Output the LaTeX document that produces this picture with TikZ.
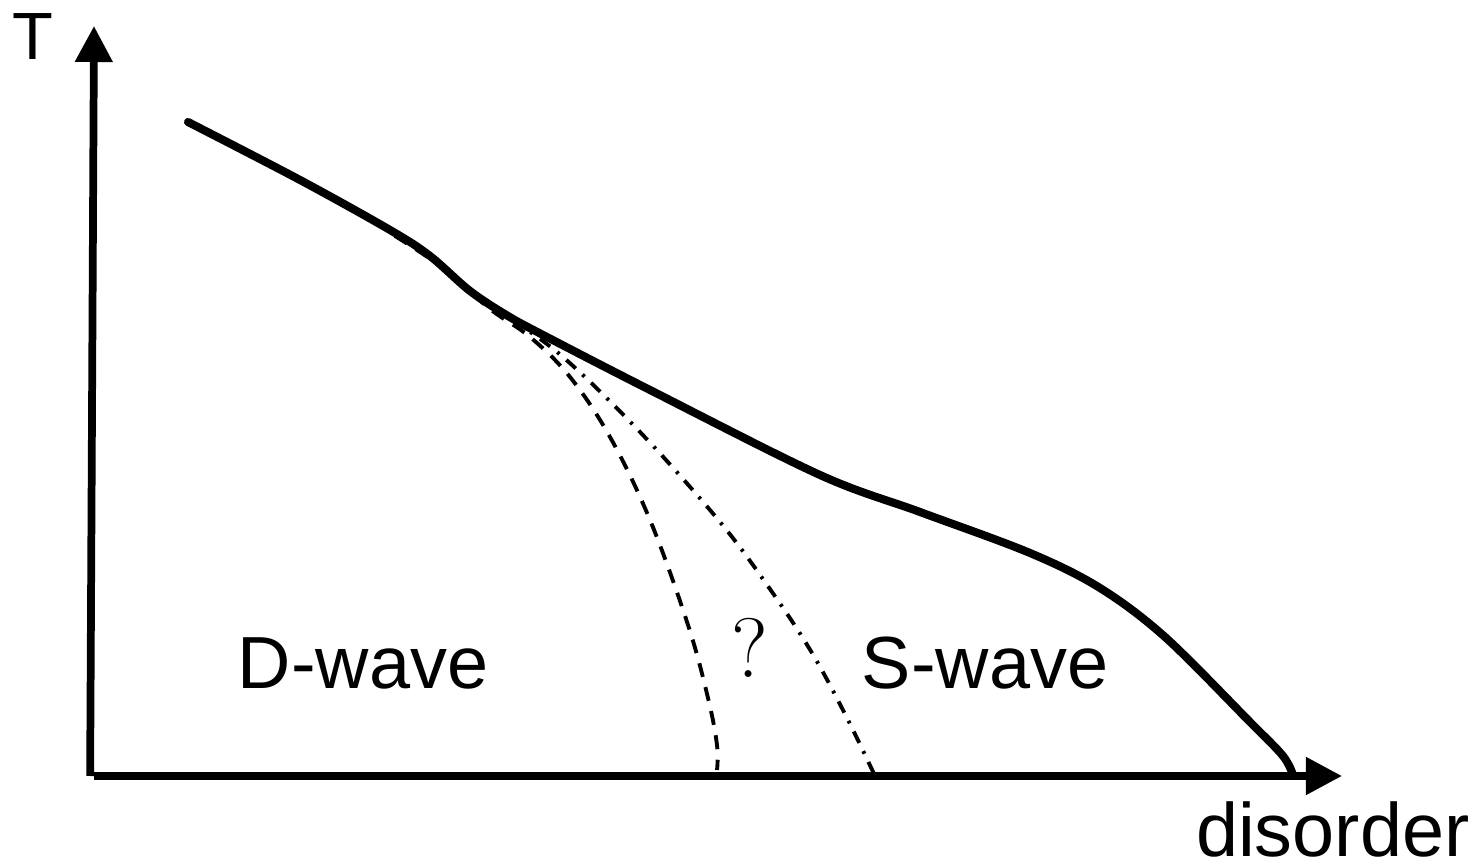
\documentclass[tikz,border=0pt]{standalone}
\usepackage{fontspec}
\setmainfont{Liberation Sans}
\newfontfamily\qfont{Latin Modern Roman}
\usetikzlibrary{arrows.meta}
\tikzset{
  axisline/.style={line width=2.2pt, -{Triangle[length=0.36cm, width=0.36cm]}},
  tccurve/.style={line width=2.3pt, line cap=round, line join=round},
  dwavebound/.style={line width=1.1pt, dash pattern=on 4pt off 3pt},
  swavebound/.style={line width=1.1pt, dash pattern=on 3.6pt off 2.6pt on 0.8pt off 2.6pt},
  phaselabel/.style={font=\fontsize{21}{24}\selectfont, inner sep=0pt},
  axislabel/.style={font=\fontsize{19}{22}\selectfont, inner sep=0pt},
}

\begin{document}
\begin{tikzpicture}[x=0.01cm, y=-0.01cm]
  \useasboundingbox (0,0) rectangle (1482,865);

  % === Axes ===
  \coordinate (origin) at (94,776);
  \coordinate (ytip) at (94,26);
  \coordinate (xtip) at (1342,776);
  \draw[axisline] ([xshift=-1.1pt]origin) -- (ytip);
  \draw[axisline] (origin) -- (xtip);
  \node[axislabel] (tlabel) at (33,37) {T};
  \node[axislabel, font=\fontsize{21.5}{24}\selectfont, anchor=base east] (dislabel) at (1470,857) {disorder};

  % === Transition line ===
  \draw[tccurve] plot[smooth, tension=0.55] coordinates {
    (188,122) (300,180) (390,230) (430,256) (470,291) (508,316)
    (545,336) (650,390) (820,475) (920,512) (1030,553) (1100,588)
    (1165,637) (1250,722) (1283,756) (1293,775)};

  % === D-wave / S-wave boundaries ===
  \draw[dwavebound] plot[smooth, tension=0.6] coordinates {
    (395,236) (440,266) (490,309) (530,337) (570,377) (610,437)
    (650,520) (688,625) (708,698) (717,745) (717,770)};
  \draw[swavebound] plot[smooth, tension=0.6] coordinates {
    (512,320) (563,357) (640,432) (720,522) (772,592) (812,653)
    (846,716) (875,776)};

  % === Phase labels ===
  \node[phaselabel] (dwave) at (363,663) {D-wave};
  \node[phaselabel, font=\qfont\fontsize{24}{26}\selectfont] (unknown) at (750,648) {?};
  \node[phaselabel] (swave) at (985,663) {S-wave};

\end{tikzpicture}
\end{document}
